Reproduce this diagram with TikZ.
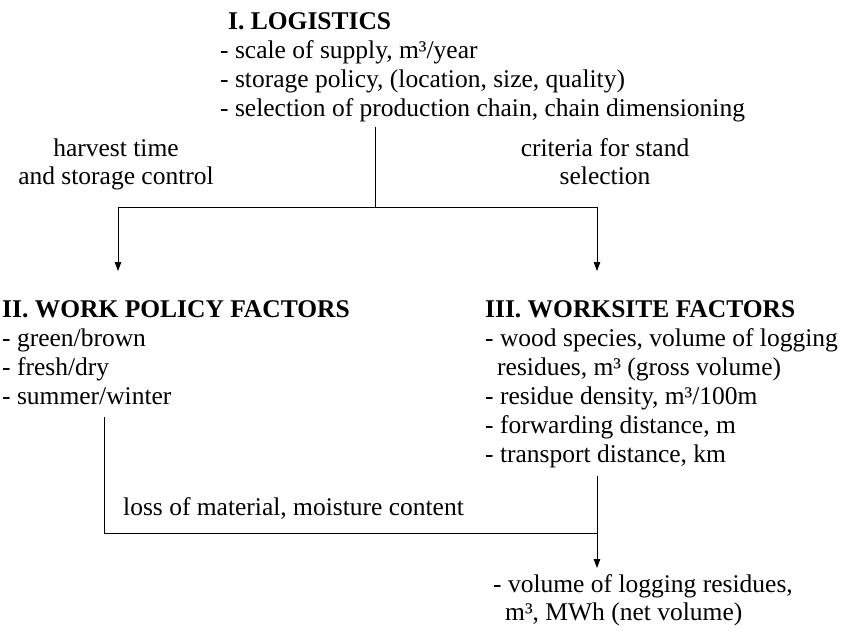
\documentclass[tikz,border=0pt]{standalone}
\usepackage{fontspec}
\setmainfont{Liberation Serif}
\usetikzlibrary{arrows.meta}
\begin{document}
\begin{tikzpicture}[x=1pt,y=-1pt,
  txt/.style={anchor=base west,inner sep=0pt,font=\fontsize{25.5}{29}\selectfont},
  ctr/.style={anchor=base,inner sep=0pt,font=\fontsize{25.5}{29}\selectfont},
  head/.style={txt,font=\fontsize{25.5}{29}\selectfont\bfseries},
  link/.style={line width=0.8pt},
  flow/.style={link,-{Triangle[length=9pt,width=6.5pt]}}]
\useasboundingbox (0,0) rectangle (847,630);

% I. Logistics
\node[head] (log) at (228,29) {I. LOGISTICS};
\node[txt] (log1) at (220,58) {- scale of supply, m³/year};
\node[txt] (log2) at (220,87) {- storage policy, (location, size, quality)};
\node[txt] (log3) at (220,116) {- selection of production chain, chain dimensioning};

% branch labels
\node[ctr] (h1) at (116,156) {harvest time};
\node[ctr] (h2) at (116,184) {and storage control};
\node[ctr] (c1) at (605,156) {criteria for stand};
\node[ctr] (c2) at (605,184) {selection};

% II. Work policy factors
\node[head] (wp) at (2,317) {II. WORK POLICY FACTORS};
\node[txt] (wp1) at (2,346) {- green/brown};
\node[txt] (wp2) at (2,375) {- fresh/dry};
\node[txt] (wp3) at (2,404) {- summer/winter};

% III. Worksite factors
\node[head] (ws) at (485,317) {III. WORKSITE FACTORS};
\node[txt] (ws1) at (485,346) {- wood species, volume of logging};
\node[txt] (ws2) at (497,375) {residues, m³ (gross volume)};
\node[txt] (ws3) at (485,404) {- residue density, m³/100m};
\node[txt] (ws4) at (485,433) {- forwarding distance, m};
\node[txt] (ws5) at (485,462) {- transport distance, km};

% result
\node[txt] (loss) at (123,515) {loss of material, moisture content};
\node[txt] (res1) at (493,592) {- volume of logging residues,};
\node[txt] (res2) at (505,620) {m³, MWh (net volume)};

% junction points
\coordinate (ltop) at (375,127);
\coordinate (lsplit) at (375,207);
\coordinate (bl) at (118,207);
\coordinate (br) at (597,207);
\coordinate (tipII) at (118,271);
\coordinate (tipIII) at (597,271);
\coordinate (wpdown) at (104,417);
\coordinate (wpcorner) at (104,533);
\coordinate (join) at (597,533);
\coordinate (wsdown) at (597,476);
\coordinate (tipres) at (597,568);

\draw[link] (ltop) -- (lsplit);
\draw[link] (bl) -- (br);
\draw[flow] (bl) -- (tipII);
\draw[flow] (br) -- (tipIII);
\draw[link] (wpdown) -- (wpcorner) -- (join);
\draw[flow] (wsdown) -- (tipres);
\end{tikzpicture}
\end{document}
